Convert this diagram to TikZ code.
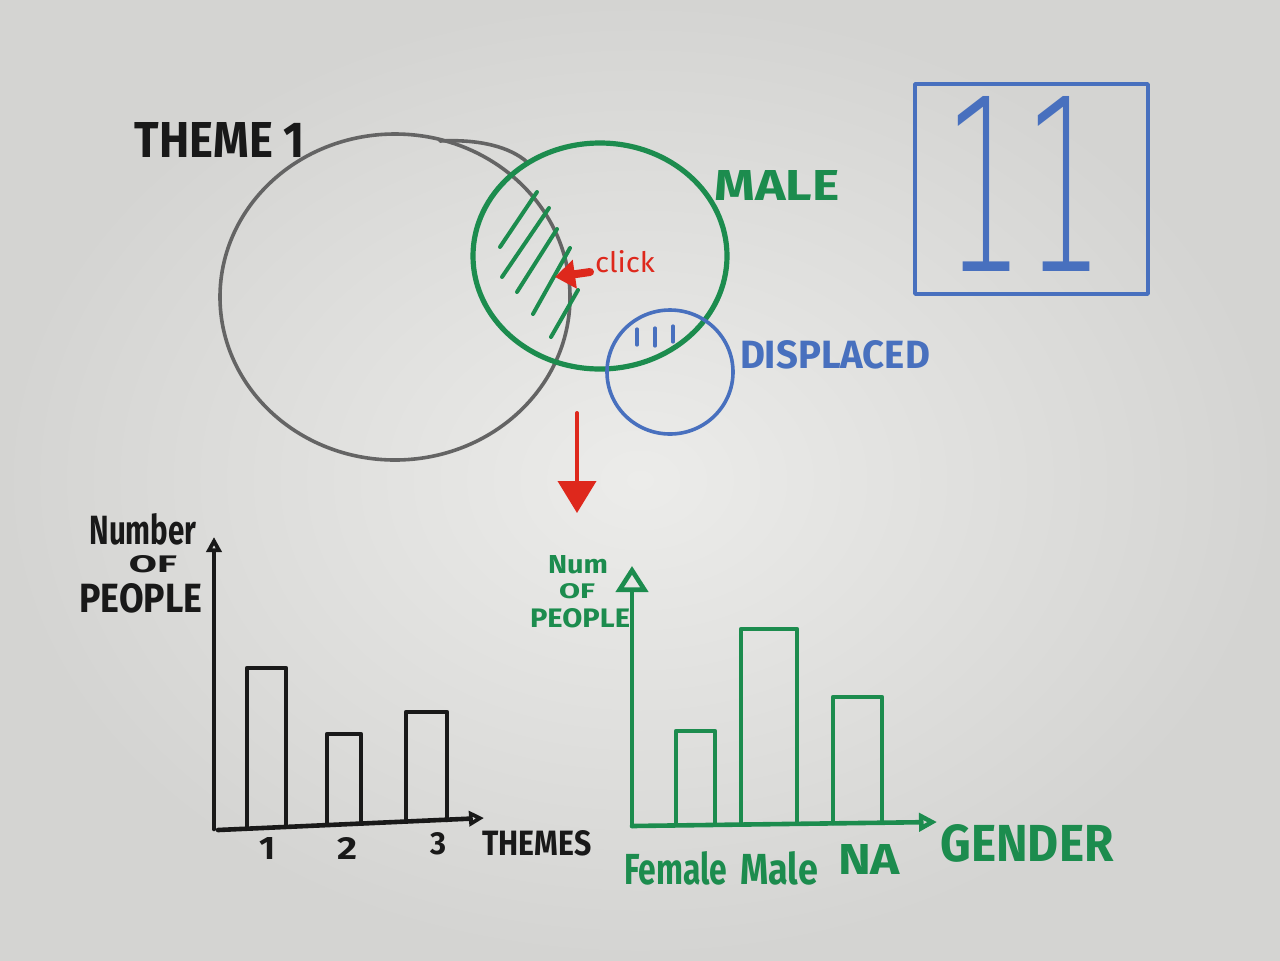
\documentclass[tikz,border=0pt]{standalone}
\usepackage{graphicx}
\usepackage{fontspec}
\setmainfont{Fira Sans}
\newfontfamily\thinfont{DejaVu Sans ExtraLight}
\usetikzlibrary{arrows.meta}

\definecolor{boardmid}{RGB}{236,236,234}
\definecolor{boardedge}{RGB}{212,212,210}
\definecolor{penblack}{RGB}{25,25,25}
\definecolor{pengray}{RGB}{100,100,100}
\definecolor{pengreen}{RGB}{28,140,78}
\definecolor{penblue}{RGB}{72,112,190}
\definecolor{penred}{RGB}{222,40,28}

% text scaled to a box of w x h (in drawing units)
\newcommand{\handtext}[3]{\resizebox{\dimexpr #1pt/2\relax}{\dimexpr #2pt/2\relax}{#3}}

\tikzset{
  pen/.style={line width=2.3pt, line cap=round, line join=round},
  blackpen/.style={pen, draw=penblack},
  graypen/.style={pen, line width=1.8pt, draw=pengray},
  greenpen/.style={pen, draw=pengreen},
  bluepen/.style={pen, line width=1.8pt, draw=penblue},
  hatch/.style={pen, line width=2pt},
  label/.style={inner sep=0pt, anchor=center, font=\bfseries},
  openhead/.style={-{Triangle[open,length=#1,width=#1]}},
}

\begin{document}
\begin{tikzpicture}[x=0.5pt, y=-0.5pt]
  \useasboundingbox (0,0) rectangle (1280,960);
  \shade[inner color=boardmid, outer color=boardedge] (0,0) rectangle (1280,960);

  % ---- Venn sketch ----
  \draw[graypen] (395,297) ellipse [x radius=175, y radius=163];
  \draw[graypen] (440,141) .. controls (480,139) and (510,147) .. (527,162);
  \node[label, text=penblack] (theme) at (220,140) {\handtext{170}{35}{THEME 1}};

  \draw[greenpen, line width=2.6pt] (600,256) ellipse [x radius=127, y radius=113];
  \node[label, text=pengreen] (male) at (777,185) {\handtext{125}{30}{MALE}};
  \draw[hatch, draw=pengreen] (500,247) -- (537,192);
  \draw[hatch, draw=pengreen] (502,277) -- (549,208);
  \draw[hatch, draw=pengreen] (517,292) -- (557,229);
  \draw[hatch, draw=pengreen] (533,314) -- (570,248);
  \draw[hatch, draw=pengreen] (551,337) -- (578,290);

  \coordinate (clicktail) at (590,272);
  \coordinate (clicktip) at (555,277);
  \draw[pen, draw=penred, fill=penred, line width=4pt, -{Triangle[length=10pt,width=14pt]}] (clicktail) -- (clicktip);
  \node[label, text=penred, font=\normalfont] (click) at (625,262) {\handtext{60}{22}{click}};

  \draw[bluepen] (670,372) ellipse [x radius=63, y radius=62];
  \draw[hatch, draw=penblue, line width=1.6pt] (637,329) -- (637,345);
  \draw[hatch, draw=penblue, line width=1.6pt] (655,328) -- (655,346);
  \draw[hatch, draw=penblue, line width=1.6pt] (673,326) -- (673,342);
  \node[label, text=penblue] (displaced) at (835,355) {\handtext{190}{28}{DISPLACED}};

  % ---- count box ----
  \draw[bluepen] (915,84) rectangle (1148,294);
  \node[label, text=penblue, font=\thinfont] (count) at (1025,184) {\handtext{160}{175}{11}};

  % ---- drill-down arrow ----
  \coordinate (downtop) at (577,413);
  \coordinate (downtip) at (577,513);
  \draw[pen, draw=penred, fill=penred, line width=2pt, -{Triangle[length=16pt,width=19pt]}] (downtop) -- (downtip);

  % ---- left chart: people per theme ----
  \coordinate (lo) at (214,829);
  \coordinate (ly) at (214,537);
  \coordinate (lx) at (484,818);
  \draw[blackpen, openhead=7.5pt] (lo) -- (ly);
  \draw[blackpen, openhead=7.5pt] (218,830) -- (lx);
  \draw[blackpen] (247,826) -- (247,668) -- (286,668) -- (286,825);
  \draw[blackpen] (327,824) -- (327,734) -- (361,734) -- (361,823);
  \draw[blackpen] (406,821) -- (406,712) -- (447,712) -- (447,820);
  \node[label, text=penblack] (n1) at (267,848) {\handtext{16}{22}{1}};
  \node[label, text=penblack] (n2) at (347,848) {\handtext{20}{22}{2}};
  \node[label, text=penblack] (n3) at (438,844) {\handtext{16}{22}{3}};
  \node[label, text=penblack] (themes) at (537,843) {\handtext{109}{25}{THEMES}};
  \node[label, text=penblack] (number) at (143,529) {\handtext{107}{31}{Number}};
  \node[label, text=penblack] (of1) at (153,564) {\handtext{48}{17}{OF}};
  \node[label, text=penblack] (people1) at (141,598) {\handtext{123}{29}{PEOPLE}};

  % ---- right chart: people per gender ----
  \coordinate (ro) at (632,826);
  \coordinate (ry) at (632,566);
  \coordinate (rx) at (937,822);
  \draw[greenpen, -{Triangle[open,length=13pt,width=16pt]}] (ro) -- (ry);
  \draw[greenpen, openhead=9pt] (ro) -- (rx);
  \draw[greenpen] (676,824) -- (676,731) -- (715,731) -- (715,824);
  \draw[greenpen] (741,824) -- (741,629) -- (797,629) -- (797,823);
  \draw[greenpen] (833,823) -- (833,697) -- (882,697) -- (882,822);
  \node[label, text=pengreen] (num) at (578,565) {\handtext{60}{18}{Num}};
  \node[label, text=pengreen] (of2) at (577,591) {\handtext{36}{15}{OF}};
  \node[label, text=pengreen] (people2) at (580,618) {\handtext{100}{19}{PEOPLE}};
  \node[label, text=pengreen] (female) at (676,868) {\handtext{103}{33}{Female}};
  \node[label, text=pengreen] (malebar) at (779,868) {\handtext{78}{33}{Male}};
  \node[label, text=pengreen] (na) at (869,859) {\handtext{62}{30}{NA}};
  \node[label, text=pengreen] (gender) at (1027,843) {\handtext{173}{37}{GENDER}};
\end{tikzpicture}
\end{document}
